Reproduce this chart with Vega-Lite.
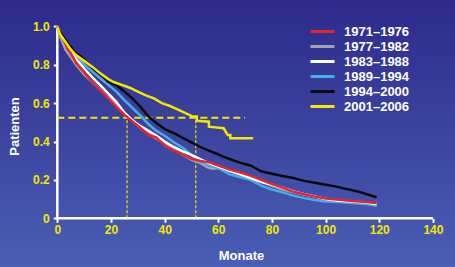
{
  "$schema": "https://vega.github.io/schema/vega-lite/v6.json",
  "width": 455,
  "height": 267,
  "autosize": {"type": "none"},
  "padding": 0,
  "background": "#3b4aa3",
  "config": {
    "view": {
      "stroke": null,
      "fill": {"gradient": "linear", "x1": 0, "y1": 0, "x2": 0, "y2": 1,
        "stops": [{"offset": 0, "color": "#2d2a8b"}, {"offset": 1, "color": "#4a5eb4"}]}
    },
    "font": "Liberation Sans"
  },
  "datasets": {
    "axes": [
      {"m": 0, "m2": 140, "p": 0, "p2": 0},
      {"m": 0, "m2": 0, "p": 0, "p2": 1}
    ],
    "hline": [{"m": 0, "m2": 70, "p": 0.524, "p2": 0.524}],
    "vline": [
      {"m": 26, "m2": 26, "p": 0, "p2": 0.524},
      {"m": 51.6, "m2": 51.6, "p": 0, "p2": 0.524}
    ],
    "curves": [
      {"s": "1977–1982", "m": 0, "p": 1.0},
      {"s": "1977–1982", "m": 1, "p": 0.95},
      {"s": "1977–1982", "m": 3, "p": 0.88},
      {"s": "1977–1982", "m": 5, "p": 0.84},
      {"s": "1977–1982", "m": 7, "p": 0.8},
      {"s": "1977–1982", "m": 10, "p": 0.75},
      {"s": "1977–1982", "m": 13, "p": 0.71},
      {"s": "1977–1982", "m": 16, "p": 0.67},
      {"s": "1977–1982", "m": 19, "p": 0.63},
      {"s": "1977–1982", "m": 22, "p": 0.59},
      {"s": "1977–1982", "m": 25, "p": 0.55},
      {"s": "1977–1982", "m": 28, "p": 0.51},
      {"s": "1977–1982", "m": 31, "p": 0.47},
      {"s": "1977–1982", "m": 34, "p": 0.44},
      {"s": "1977–1982", "m": 37, "p": 0.415},
      {"s": "1977–1982", "m": 40, "p": 0.39},
      {"s": "1977–1982", "m": 43, "p": 0.36},
      {"s": "1977–1982", "m": 47, "p": 0.33},
      {"s": "1977–1982", "m": 50, "p": 0.305},
      {"s": "1977–1982", "m": 53, "p": 0.29},
      {"s": "1977–1982", "m": 56, "p": 0.265},
      {"s": "1977–1982", "m": 58, "p": 0.258},
      {"s": "1977–1982", "m": 60, "p": 0.262},
      {"s": "1977–1982", "m": 64, "p": 0.245},
      {"s": "1977–1982", "m": 68, "p": 0.23},
      {"s": "1977–1982", "m": 72, "p": 0.21},
      {"s": "1977–1982", "m": 76, "p": 0.19},
      {"s": "1977–1982", "m": 80, "p": 0.17},
      {"s": "1977–1982", "m": 84, "p": 0.15},
      {"s": "1977–1982", "m": 88, "p": 0.135},
      {"s": "1977–1982", "m": 92, "p": 0.125},
      {"s": "1977–1982", "m": 96, "p": 0.115},
      {"s": "1977–1982", "m": 100, "p": 0.1},
      {"s": "1977–1982", "m": 105, "p": 0.09},
      {"s": "1977–1982", "m": 110, "p": 0.085},
      {"s": "1977–1982", "m": 115, "p": 0.078},
      {"s": "1977–1982", "m": 119, "p": 0.065},

      {"s": "1989–1994", "m": 0, "p": 1.0},
      {"s": "1989–1994", "m": 1, "p": 0.97},
      {"s": "1989–1994", "m": 3, "p": 0.92},
      {"s": "1989–1994", "m": 5, "p": 0.88},
      {"s": "1989–1994", "m": 7, "p": 0.85},
      {"s": "1989–1994", "m": 10, "p": 0.8},
      {"s": "1989–1994", "m": 13, "p": 0.765},
      {"s": "1989–1994", "m": 16, "p": 0.729},
      {"s": "1989–1994", "m": 19, "p": 0.695},
      {"s": "1989–1994", "m": 22, "p": 0.66},
      {"s": "1989–1994", "m": 25, "p": 0.615},
      {"s": "1989–1994", "m": 28, "p": 0.575},
      {"s": "1989–1994", "m": 31, "p": 0.535},
      {"s": "1989–1994", "m": 34, "p": 0.49},
      {"s": "1989–1994", "m": 37, "p": 0.455},
      {"s": "1989–1994", "m": 40, "p": 0.43},
      {"s": "1989–1994", "m": 43, "p": 0.4},
      {"s": "1989–1994", "m": 47, "p": 0.365},
      {"s": "1989–1994", "m": 50, "p": 0.33},
      {"s": "1989–1994", "m": 53, "p": 0.295},
      {"s": "1989–1994", "m": 56, "p": 0.28},
      {"s": "1989–1994", "m": 60, "p": 0.262},
      {"s": "1989–1994", "m": 64, "p": 0.23},
      {"s": "1989–1994", "m": 68, "p": 0.215},
      {"s": "1989–1994", "m": 72, "p": 0.2},
      {"s": "1989–1994", "m": 76, "p": 0.17},
      {"s": "1989–1994", "m": 80, "p": 0.15},
      {"s": "1989–1994", "m": 84, "p": 0.135},
      {"s": "1989–1994", "m": 88, "p": 0.118},
      {"s": "1989–1994", "m": 92, "p": 0.105},
      {"s": "1989–1994", "m": 96, "p": 0.095},
      {"s": "1989–1994", "m": 100, "p": 0.088},
      {"s": "1989–1994", "m": 105, "p": 0.085},
      {"s": "1989–1994", "m": 110, "p": 0.08},
      {"s": "1989–1994", "m": 115, "p": 0.075},
      {"s": "1989–1994", "m": 119, "p": 0.068},

      {"s": "1983–1988", "m": 0, "p": 1.0},
      {"s": "1983–1988", "m": 1, "p": 0.97},
      {"s": "1983–1988", "m": 3, "p": 0.92},
      {"s": "1983–1988", "m": 5, "p": 0.87},
      {"s": "1983–1988", "m": 7, "p": 0.83},
      {"s": "1983–1988", "m": 10, "p": 0.78},
      {"s": "1983–1988", "m": 13, "p": 0.735},
      {"s": "1983–1988", "m": 16, "p": 0.694},
      {"s": "1983–1988", "m": 19, "p": 0.65},
      {"s": "1983–1988", "m": 22, "p": 0.607},
      {"s": "1983–1988", "m": 25, "p": 0.55},
      {"s": "1983–1988", "m": 28, "p": 0.51},
      {"s": "1983–1988", "m": 31, "p": 0.48},
      {"s": "1983–1988", "m": 34, "p": 0.455},
      {"s": "1983–1988", "m": 37, "p": 0.43},
      {"s": "1983–1988", "m": 40, "p": 0.4},
      {"s": "1983–1988", "m": 43, "p": 0.375},
      {"s": "1983–1988", "m": 47, "p": 0.347},
      {"s": "1983–1988", "m": 50, "p": 0.33},
      {"s": "1983–1988", "m": 53, "p": 0.31},
      {"s": "1983–1988", "m": 56, "p": 0.29},
      {"s": "1983–1988", "m": 60, "p": 0.27},
      {"s": "1983–1988", "m": 64, "p": 0.25},
      {"s": "1983–1988", "m": 68, "p": 0.23},
      {"s": "1983–1988", "m": 72, "p": 0.21},
      {"s": "1983–1988", "m": 76, "p": 0.19},
      {"s": "1983–1988", "m": 80, "p": 0.175},
      {"s": "1983–1988", "m": 84, "p": 0.16},
      {"s": "1983–1988", "m": 88, "p": 0.14},
      {"s": "1983–1988", "m": 92, "p": 0.125},
      {"s": "1983–1988", "m": 96, "p": 0.113},
      {"s": "1983–1988", "m": 100, "p": 0.1},
      {"s": "1983–1988", "m": 105, "p": 0.092},
      {"s": "1983–1988", "m": 110, "p": 0.088},
      {"s": "1983–1988", "m": 115, "p": 0.082},
      {"s": "1983–1988", "m": 119, "p": 0.075},

      {"s": "1971–1976", "m": 0, "p": 1.0},
      {"s": "1971–1976", "m": 1, "p": 0.97},
      {"s": "1971–1976", "m": 3, "p": 0.91},
      {"s": "1971–1976", "m": 5, "p": 0.86},
      {"s": "1971–1976", "m": 7, "p": 0.81},
      {"s": "1971–1976", "m": 10, "p": 0.76},
      {"s": "1971–1976", "m": 13, "p": 0.71},
      {"s": "1971–1976", "m": 16, "p": 0.668},
      {"s": "1971–1976", "m": 19, "p": 0.625},
      {"s": "1971–1976", "m": 22, "p": 0.581},
      {"s": "1971–1976", "m": 25, "p": 0.54},
      {"s": "1971–1976", "m": 28, "p": 0.505},
      {"s": "1971–1976", "m": 31, "p": 0.47},
      {"s": "1971–1976", "m": 34, "p": 0.435},
      {"s": "1971–1976", "m": 37, "p": 0.42},
      {"s": "1971–1976", "m": 40, "p": 0.38},
      {"s": "1971–1976", "m": 43, "p": 0.356},
      {"s": "1971–1976", "m": 47, "p": 0.33},
      {"s": "1971–1976", "m": 50, "p": 0.31},
      {"s": "1971–1976", "m": 53, "p": 0.3},
      {"s": "1971–1976", "m": 57, "p": 0.29},
      {"s": "1971–1976", "m": 60, "p": 0.275},
      {"s": "1971–1976", "m": 64, "p": 0.255},
      {"s": "1971–1976", "m": 68, "p": 0.24},
      {"s": "1971–1976", "m": 72, "p": 0.222},
      {"s": "1971–1976", "m": 76, "p": 0.2},
      {"s": "1971–1976", "m": 80, "p": 0.178},
      {"s": "1971–1976", "m": 84, "p": 0.16},
      {"s": "1971–1976", "m": 88, "p": 0.138},
      {"s": "1971–1976", "m": 92, "p": 0.125},
      {"s": "1971–1976", "m": 96, "p": 0.113},
      {"s": "1971–1976", "m": 100, "p": 0.103},
      {"s": "1971–1976", "m": 105, "p": 0.096},
      {"s": "1971–1976", "m": 110, "p": 0.09},
      {"s": "1971–1976", "m": 115, "p": 0.085},
      {"s": "1971–1976", "m": 119, "p": 0.08},

      {"s": "1994–2000", "m": 0, "p": 1.0},
      {"s": "1994–2000", "m": 1, "p": 0.97},
      {"s": "1994–2000", "m": 4, "p": 0.91},
      {"s": "1994–2000", "m": 7, "p": 0.86},
      {"s": "1994–2000", "m": 9, "p": 0.84},
      {"s": "1994–2000", "m": 12, "p": 0.8},
      {"s": "1994–2000", "m": 14, "p": 0.772},
      {"s": "1994–2000", "m": 17, "p": 0.74},
      {"s": "1994–2000", "m": 19, "p": 0.711},
      {"s": "1994–2000", "m": 22, "p": 0.694},
      {"s": "1994–2000", "m": 25, "p": 0.66},
      {"s": "1994–2000", "m": 28, "p": 0.625},
      {"s": "1994–2000", "m": 31, "p": 0.58},
      {"s": "1994–2000", "m": 34, "p": 0.53},
      {"s": "1994–2000", "m": 37, "p": 0.495},
      {"s": "1994–2000", "m": 40, "p": 0.465},
      {"s": "1994–2000", "m": 44, "p": 0.44},
      {"s": "1994–2000", "m": 47, "p": 0.417},
      {"s": "1994–2000", "m": 50, "p": 0.395},
      {"s": "1994–2000", "m": 53, "p": 0.373},
      {"s": "1994–2000", "m": 56, "p": 0.355},
      {"s": "1994–2000", "m": 59, "p": 0.339},
      {"s": "1994–2000", "m": 62, "p": 0.32},
      {"s": "1994–2000", "m": 65, "p": 0.305},
      {"s": "1994–2000", "m": 68, "p": 0.29},
      {"s": "1994–2000", "m": 72, "p": 0.275},
      {"s": "1994–2000", "m": 76, "p": 0.245},
      {"s": "1994–2000", "m": 80, "p": 0.232},
      {"s": "1994–2000", "m": 84, "p": 0.22},
      {"s": "1994–2000", "m": 88, "p": 0.21},
      {"s": "1994–2000", "m": 92, "p": 0.195},
      {"s": "1994–2000", "m": 96, "p": 0.185},
      {"s": "1994–2000", "m": 100, "p": 0.175},
      {"s": "1994–2000", "m": 104, "p": 0.165},
      {"s": "1994–2000", "m": 108, "p": 0.152},
      {"s": "1994–2000", "m": 112, "p": 0.14},
      {"s": "1994–2000", "m": 116, "p": 0.123},
      {"s": "1994–2000", "m": 119, "p": 0.11},

      {"s": "2001–2006", "m": 0, "p": 1.0},
      {"s": "2001–2006", "m": 1, "p": 0.96},
      {"s": "2001–2006", "m": 3, "p": 0.92},
      {"s": "2001–2006", "m": 5, "p": 0.88},
      {"s": "2001–2006", "m": 7, "p": 0.85},
      {"s": "2001–2006", "m": 10, "p": 0.82},
      {"s": "2001–2006", "m": 13, "p": 0.79},
      {"s": "2001–2006", "m": 16, "p": 0.755},
      {"s": "2001–2006", "m": 19, "p": 0.725},
      {"s": "2001–2006", "m": 21, "p": 0.71},
      {"s": "2001–2006", "m": 24, "p": 0.695},
      {"s": "2001–2006", "m": 27, "p": 0.68},
      {"s": "2001–2006", "m": 30, "p": 0.66},
      {"s": "2001–2006", "m": 33, "p": 0.64},
      {"s": "2001–2006", "m": 36, "p": 0.625},
      {"s": "2001–2006", "m": 39, "p": 0.6},
      {"s": "2001–2006", "m": 42, "p": 0.585},
      {"s": "2001–2006", "m": 44, "p": 0.573},
      {"s": "2001–2006", "m": 46, "p": 0.56},
      {"s": "2001–2006", "m": 48, "p": 0.547},
      {"s": "2001–2006", "m": 50.5, "p": 0.53},
      {"s": "2001–2006", "m": 52, "p": 0.53},
      {"s": "2001–2006", "m": 52, "p": 0.508},
      {"s": "2001–2006", "m": 56.5, "p": 0.503},
      {"s": "2001–2006", "m": 56.5, "p": 0.477},
      {"s": "2001–2006", "m": 62, "p": 0.469},
      {"s": "2001–2006", "m": 63.5, "p": 0.434},
      {"s": "2001–2006", "m": 64.5, "p": 0.434},
      {"s": "2001–2006", "m": 64.5, "p": 0.417},
      {"s": "2001–2006", "m": 73, "p": 0.417}
    ]
  },
  "layer": [
    {
      "data": {"name": "axes"},
      "mark": {"type": "rule", "color": "#ffffff", "strokeWidth": 2.5},
      "encoding": {
        "x": {
          "field": "m", "type": "quantitative",
          "scale": {"domain": [-21.36, 148.23], "nice": false, "zero": false},
          "axis": {
            "title": "Monate", "values": [0, 20, 40, 60, 80, 100, 120, 140],
            "offset": -48.7, "domain": false, "grid": false,
            "ticks": true, "tickColor": "#ffffff", "tickSize": 4, "tickWidth": 2,
            "labelColor": "#f2e800", "labelFont": "Liberation Sans", "labelFontSize": 12,
            "labelFontWeight": "bold", "labelPadding": 2, "labelFlush": false,
            "titleColor": "#ffffff", "titleFont": "Liberation Sans", "titleFontSize": 13,
            "titleFontWeight": "bold", "titleX": 241, "titleY": 37.5,
            "titleAlign": "center", "titleBaseline": "middle", "titleAnchor": null
          }
        },
        "x2": {"field": "m2"},
        "y": {
          "field": "p", "type": "quantitative",
          "scale": {"domain": [-0.2536, 1.137], "nice": false, "zero": false},
          "axis": {
            "title": "Patienten", "values": [0, 0.2, 0.4, 0.6, 0.8, 1.0],
            "labelExpr": "datum.value == 0 ? '0' : format(datum.value, '.1f')",
            "offset": -57.3, "domain": false, "grid": false,
            "ticks": true, "tickColor": "#ffffff", "tickSize": 4, "tickWidth": 2,
            "labelColor": "#f2e800", "labelFont": "Liberation Sans", "labelFontSize": 12,
            "labelFontWeight": "bold", "labelPadding": 4, "labelFlush": false,
            "titleColor": "#ffffff", "titleFont": "Liberation Sans", "titleFontSize": 13,
            "titleFontWeight": "bold", "titleX": -42.6, "titleY": 126,
            "titleAngle": 270, "titleAlign": "center", "titleBaseline": "middle", "titleAnchor": null
          }
        },
        "y2": {"field": "p2"}
      }
    },
    {
      "data": {"name": "hline"},
      "mark": {"type": "rule", "color": "#f2e800", "strokeWidth": 2, "strokeDash": [7, 4]},
      "encoding": {
        "x": {"field": "m", "type": "quantitative"},
        "x2": {"field": "m2"},
        "y": {"field": "p", "type": "quantitative"},
        "y2": {"field": "p2"}
      }
    },
    {
      "data": {"name": "vline"},
      "mark": {"type": "rule", "color": "#f2e800", "strokeWidth": 1.2, "strokeDash": [3, 2]},
      "encoding": {
        "x": {"field": "m", "type": "quantitative"},
        "x2": {"field": "m2"},
        "y": {"field": "p", "type": "quantitative"},
        "y2": {"field": "p2"}
      }
    },
    {
      "data": {"name": "curves"},
      "mark": {"type": "line", "strokeWidth": 2.5, "interpolate": "linear"},
      "encoding": {
        "x": {"field": "m", "type": "quantitative"},
        "y": {"field": "p", "type": "quantitative"},
        "color": {
          "field": "s", "type": "nominal",
          "scale": {
            "domain": ["1971–1976", "1977–1982", "1983–1988", "1989–1994", "1994–2000", "2001–2006"],
            "range": ["#e8232a", "#a3a3ad", "#ffffff", "#45aee6", "#0a0a0a", "#f2e800"]
          },
          "legend": {
            "title": null, "orient": "none", "legendX": 316, "legendY": 25,
            "padding": 0, "symbolType": "M-3,0H3", "symbolSize": 64, "symbolStrokeWidth": 3,
            "labelOffset": 15, "labelFont": "Liberation Sans", "labelFontSize": 13,
            "labelFontWeight": "bold", "labelColor": "#ffffff", "rowPadding": 1.0,
            "labelLimit": 200
          }
        },
        "order": {"field": "m", "type": "quantitative"}
      }
    }
  ]
}
